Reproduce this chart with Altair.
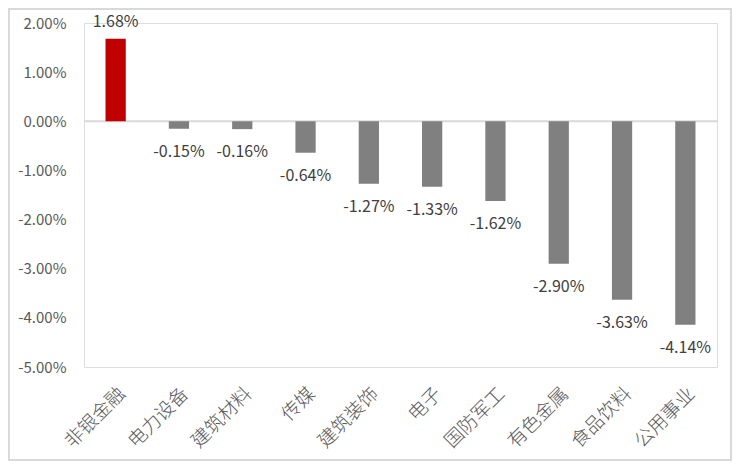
import altair as alt
import pandas as pd

categories = ["非银金融", "电力设备", "建筑材料", "传媒", "建筑装饰", "电子", "国防军工", "有色金属", "食品饮料", "公用事业"]
values_pct = [1.68, -0.15, -0.16, -0.64, -1.27, -1.33, -1.62, -2.90, -3.63, -4.14]
y_ticks_pct = [2, 1, 0, -1, -2, -3, -4, -5]

df = pd.DataFrame({
    "cat": categories,
    "val": [v / 100 for v in values_pct],
})

W, H = 633, 344
PL, PT, PR, PB = 76, 15, 15, 94
FONT = "Noto Sans CJK SC"
TXT = "#595959"
FMT = "replace(format({v}, '.2%'), '\u2212', '-')"

x = alt.X("cat:N", sort=categories, title=None,
          scale=alt.Scale(paddingInner=0.68, paddingOuter=0.34),
          axis=alt.Axis(labelAngle=-45, labelPadding=17, domain=False, ticks=False,
                        labelFontSize=19, labelFontWeight=300, labelColor=TXT, labelFont=FONT))
y = alt.Y("val:Q", title=None,
          scale=alt.Scale(domain=[-0.05, 0.02], nice=False, zero=False),
          axis=alt.Axis(values=[t / 100 for t in y_ticks_pct], grid=False,
                        labelExpr=FMT.format(v="datum.value"),
                        domain=False, ticks=False, labelPadding=18, labelFontSize=15,
                        labelColor=TXT, labelFont=FONT))

base = alt.Chart(df).transform_calculate(lab=FMT.format(v="datum.val"))

bars = base.mark_bar().encode(
    x=x, y=y,
    color=alt.condition("datum.val >= 0", alt.value("#C00000"), alt.value("#808080")),
)

zero = alt.Chart(pd.DataFrame({"z": [0]})).mark_rule(color="#d9d9d9", strokeWidth=2).encode(
    y=alt.Y("z:Q", scale=alt.Scale(domain=[-0.05, 0.02], nice=False, zero=False)),
    x=alt.value(0), x2=alt.value(W + 1),
)

lab_pos = base.transform_filter("datum.val >= 0").mark_text(
    baseline="middle", dy=-17, fontSize=16, color="#404040", font=FONT
).encode(x=alt.X("cat:N", sort=categories), y="val:Q", text="lab:N")

lab_neg = base.transform_filter("datum.val < 0").mark_text(
    baseline="middle", dy=23, fontSize=16, color="#404040", font=FONT
).encode(x=alt.X("cat:N", sort=categories), y="val:Q", text="lab:N")

border = alt.Chart(pd.DataFrame({"a": [0]})).mark_rect(
    fill=None, stroke="#d9d9d9", strokeWidth=2
).encode(
    x=alt.value(-PL + 1), x2=alt.value(W + PR - 1),
    y=alt.value(-PT + 1), y2=alt.value(H + PB - 1),
)

chart = alt.layer(border, zero, bars, lab_pos, lab_neg).properties(
    width=W, height=H,
    autosize=alt.AutoSizeParams(type="none"),
    padding={"left": PL, "top": PT, "right": PR, "bottom": PB},
).configure_view(stroke=None).configure(background="white")

chart.save("out.html", embed_options={"renderer": "svg", "actions": False})
